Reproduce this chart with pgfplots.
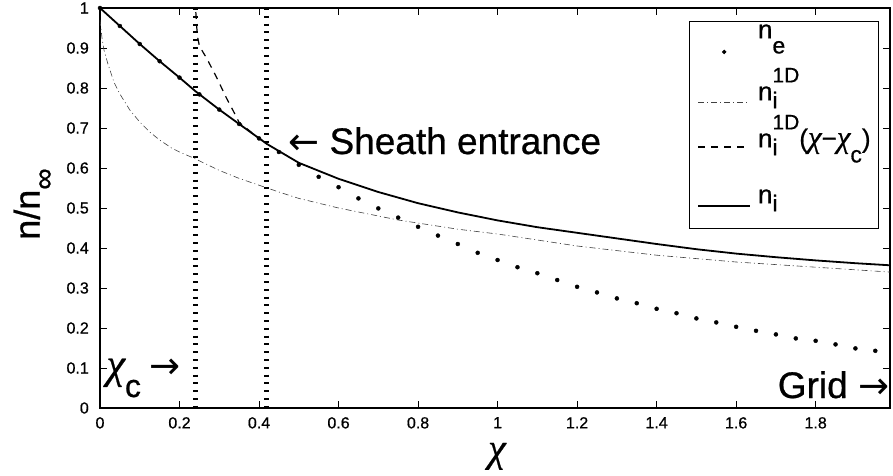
\documentclass[border=0pt]{standalone}
\usepackage{fontspec}
\setmainfont{Liberation Sans}[FakeBold=0.7]
\newfontfamily\arrowfont{DejaVu Sans}
\newfontfamily\grkfont{Liberation Serif}[FakeBold=0.5]
\usepackage{pgfplots}
\pgfplotsset{compat=1.18}
\newcommand{\lsub}[1]{\raisebox{-15pt}{\fontsize{23}{23}\selectfont #1}}
\newcommand{\lsubi}{\rlap{\raisebox{-8pt}{\fontsize{23}{23}\selectfont i}}}
\newcommand{\lsup}[1]{\raisebox{18pt}{\fontsize{21}{21}\selectfont #1}}
\newcommand{\chisym}[1]{{\fontsize{#1}{#1}\selectfont\grkfont\itshape χ}}
\newcommand{\tickfont}{\fontsize{16}{16}\selectfont}
\begin{document}
\begin{tikzpicture}
\begin{axis}[
  name=ax,
  width=790pt, height=400pt, scale only axis,
  xmin=0, xmax=1.987, ymin=0, ymax=1,
  xtick={0,0.2,0.4,0.6,0.8,1,1.2,1.4,1.6,1.8},
  ytick={0,0.1,0.2,0.3,0.4,0.5,0.6,0.7,0.8,0.9,1},
  /pgf/number format/assume math mode=true,
  xticklabel={\tickfont\pgfmathprintnumber{\tick}},
  yticklabel={\tickfont\pgfmathprintnumber{\tick}},
  tick align=inside, major tick length=7pt,
  every tick/.style={black, line width=1pt},
  axis line style={line width=1.4pt},
  xticklabel style={inner sep=0pt, yshift=-9pt},
  yticklabel style={inner sep=0pt, xshift=-11pt},
  xlabel={\chisym{40}},
  xlabel style={at={(axis description cs:0.5025,-0.121)}, anchor=center, inner sep=0pt},
  ylabel={\fontsize{36}{36}\selectfont n/n\raisebox{-14pt}{\fontsize{30}{30}\selectfont ∞}},
  ylabel style={at={(axis description cs:-0.084,0.51)}, anchor=center, inner sep=0pt},
  legend cell align=left,
  legend style={at={(axis description cs:1,1)}, anchor=north east,
    xshift=-11pt, yshift=-13pt, draw=black, line width=0.8pt,
    inner xsep=8pt, inner ysep=2pt,
    font=\fontsize{26}{26}\selectfont,
    nodes={inner sep=0pt, text height=17pt, text depth=24pt},
    row sep=13pt,
    /tikz/every odd column/.append style={column sep=7pt}},
]
\addplot[only marks, mark=*, mark size=2pt, black,
  legend image code/.code={\fill[black] (26pt,-8pt) circle (1.8pt);}]
coordinates {
(0,1) (0.05,0.955) (0.1,0.91) (0.15,0.867) (0.2,0.826) (0.25,0.784)
(0.3,0.746) (0.35,0.71) (0.4,0.674) (0.45,0.64) (0.5,0.608)
(0.55,0.578) (0.6,0.552) (0.65,0.524) (0.7,0.499) (0.75,0.476)
(0.8,0.453) (0.85,0.431) (0.9,0.41) (0.95,0.388) (1.0,0.37)
(1.05,0.352) (1.1,0.337) (1.15,0.32) (1.2,0.303) (1.25,0.289)
(1.3,0.274) (1.35,0.262) (1.4,0.248) (1.45,0.237) (1.5,0.224)
(1.55,0.214) (1.6,0.203) (1.65,0.193) (1.7,0.184) (1.75,0.174)
(1.8,0.168) (1.85,0.159) (1.9,0.149) (1.95,0.143)
};
\addlegendentry{\raisebox{2pt}{n\lsub{e}}}
\addplot[black!75, line width=0.6pt, dash pattern=on 6pt off 3pt on 1pt off 3pt,
  legend image code/.code={\draw[black!75, line width=0.6pt, dash pattern=on 6pt off 3pt on 1pt off 3pt] (0pt,-4pt) -- (52pt,-4pt);}]
coordinates {
(0,0.97) (0.005,0.925) (0.01,0.895) (0.02,0.86) (0.035,0.815) (0.05,0.785)
(0.075,0.745) (0.1,0.715) (0.125,0.69) (0.15,0.67) (0.18,0.65) (0.2,0.64)
(0.235,0.625) (0.3,0.594) (0.35,0.574) (0.4,0.557) (0.45,0.54) (0.5,0.524)
(0.6,0.5) (0.75,0.47) (0.9,0.447) (1.0,0.435) (1.2,0.405) (1.4,0.382)
(1.6,0.365) (1.8,0.352) (2.0,0.339)
};
\addlegendentry{\raisebox{-6pt}{n\lsubi\lsup{1D}}}
\addplot[black, line width=1.2pt, dash pattern=on 7pt off 6pt,
  legend image code/.code={\draw[black, line width=1.2pt, dash pattern=on 7pt off 6pt] (0pt,5pt) -- (52pt,5pt);}]
coordinates {
(0.241,0.99) (0.243,0.955) (0.246,0.925) (0.25,0.905) (0.26,0.888) (0.268,0.875)
(0.293,0.827) (0.318,0.775) (0.334,0.745) (0.35,0.714) (0.38,0.69) (0.42,0.66)
};
\addlegendentry{\raisebox{1pt}{n\lsubi\lsup{1D}(\chisym{31}−\chisym{31}\lsub{c})}}
\addplot[black, line width=1.8pt,
  legend image code/.code={\draw[black, line width=1.6pt] (0pt,0pt) -- (52pt,0pt);}]
coordinates {
(0,1) (0.05,0.955) (0.1,0.91) (0.15,0.867) (0.2,0.826) (0.24,0.792)
(0.3,0.746) (0.35,0.71) (0.42,0.66) (0.5,0.613) (0.6,0.573) (0.7,0.54)
(0.8,0.512) (0.9,0.489) (1.0,0.469) (1.1,0.452) (1.2,0.438) (1.3,0.424)
(1.4,0.41) (1.5,0.397) (1.6,0.386) (1.7,0.377) (1.8,0.369) (1.9,0.362) (2.0,0.356)
};
\addlegendentry{\raisebox{-1pt}{n\lsubi}}
\addplot[forget plot, black, line width=5pt, dash pattern=on 2pt off 5.8pt]
  coordinates {(0.24,1) (0.24,0)};
\addplot[forget plot, black, line width=5pt, dash pattern=on 2pt off 5.8pt]
  coordinates {(0.42,1) (0.42,0)};
\node[anchor=base west, inner sep=0pt, font=\fontsize{37}{37}\selectfont]
  at (axis cs:0.473,0.635) {{\arrowfont ←} Sheath entrance};
\node[anchor=base west, inner sep=0pt, font=\fontsize{37}{37}\selectfont]
  at (axis cs:0.016,0.075) {\chisym{42}\raisebox{-19pt}{\fontsize{32}{32}\selectfont c}\hspace{8pt}{\arrowfont →}};
\node[anchor=base east, inner sep=0pt, font=\fontsize{37}{37}\selectfont]
  at (axis cs:1.985,0.025) {Grid {\arrowfont →}};
\end{axis}
\pgfresetboundingbox
\path ([shift={(-100pt,-67pt)}]ax.south west) rectangle ([shift={(3pt,8pt)}]ax.north east);
\end{tikzpicture}
\end{document}
